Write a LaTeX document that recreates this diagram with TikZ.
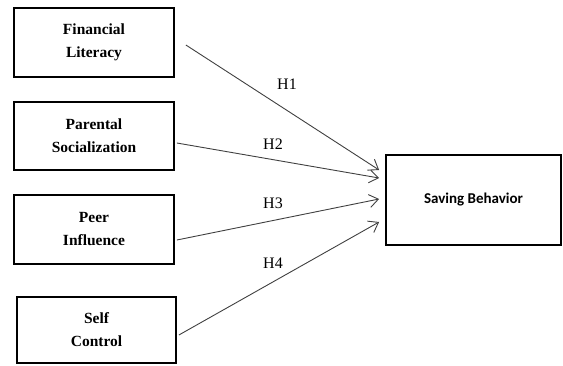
\documentclass[tikz,border=0pt]{standalone}
\usepackage{fontspec}
\setmainfont{Liberation Serif}
\newfontfamily\calib{Carlito}
\usetikzlibrary{arrows.meta,calc}
\begin{document}
\begin{tikzpicture}[x=1pt,y=-1pt,
  varbox/.style={draw=black,line width=1.8pt,minimum width=160pt,inner sep=0pt,align=center,font=\fontsize{15.5}{23}\selectfont\bfseries},
  conn/.style={draw=black!75,line width=0.9pt,-{Straight Barb[length=9pt,width=13pt,line width=0.9pt]}},
  hlab/.style={font=\fontsize{16}{18}\selectfont,inner sep=0pt}]
\useasboundingbox (0,0) rectangle (563,365);
\node[varbox,minimum height=69pt] (fl) at (94,42.5) {Financial\\Literacy};
\node[varbox,minimum height=68pt] (ps) at (94,136) {Parental\\Socialization};
\node[varbox,minimum height=69pt] (pi) at (94,229.5) {Peer\\Influence};
\node[varbox,minimum height=66pt,minimum width=159pt] (sc) at (96.5,330) {Self\\Control};
\node[draw=black,line width=1.8pt,minimum width=175pt,minimum height=90pt,inner sep=0pt,font=\calib\fontsize{15}{18}\selectfont\bfseries] (sb) at (473.5,200) {Saving Behavior};
\coordinate (s1) at ($(fl.east)+(11,2.5)$);
\coordinate (s2) at ($(ps.east)+(2,7)$);
\coordinate (s3) at ($(pi.east)+(2,10.5)$);
\coordinate (s4) at ($(sc.east)+(2,5)$);
\coordinate (t1) at ($(sb.west)+(-6,-30)$);
\coordinate (t2) at ($(sb.west)+(-6,-22)$);
\coordinate (t3) at ($(sb.west)+(-6,-1)$);
\coordinate (t4) at ($(sb.west)+(-6,22)$);
\draw[conn] (s1) -- (t1);
\draw[conn] (s2) -- (t2);
\draw[conn] (s3) -- (t3);
\draw[conn] (s4) -- (t4);
\node[hlab] (h1) at (287,84) {H1};
\node[hlab] (h2) at (273,144) {H2};
\node[hlab] (h3) at (273,203) {H3};
\node[hlab] (h4) at (273,263) {H4};
\end{tikzpicture}
\end{document}
